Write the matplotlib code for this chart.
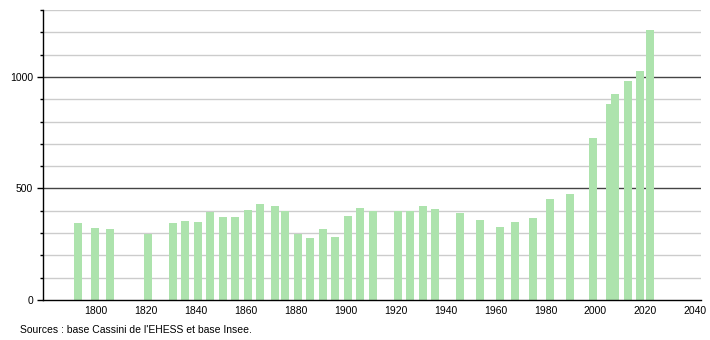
import matplotlib
matplotlib.use("Agg")
import matplotlib.pyplot as plt
from matplotlib.ticker import MultipleLocator

years = [1793, 1800, 1806, 1821, 1831, 1836, 1841, 1846, 1851, 1856, 1861, 1866,
         1872, 1876, 1881, 1886, 1891, 1896, 1901, 1906, 1911, 1921, 1926, 1931,
         1936, 1946, 1954, 1962, 1968, 1975, 1982, 1990, 1999, 2006, 2008, 2013,
         2018, 2022]
population = [345, 324, 318, 294, 345, 354, 349, 395, 373, 372, 403, 431,
              422, 397, 296, 278, 318, 284, 378, 412, 397, 397, 397, 422,
              408, 390, 360, 327, 349, 367, 452, 475, 728, 878, 922, 981,
              1025, 1209]
xtick_years = list(range(1800, 2041, 20))
ytick_major = [0, 500, 1000]
source_text = "Sources : base Cassini de l'EHESS et base Insee."

plt.rcParams['font.family'] = ['Liberation Sans', 'DejaVu Sans']

fig = plt.figure(figsize=(7.1, 3.4), dpi=100)
ax = fig.add_axes([43 / 710, 40 / 340, (700.7 - 43) / 710, 290 / 340])

ax.set_xlim(1779, 2042.1)
ax.set_ylim(0, 1300)

# grid lines
for v in range(100, 1301, 100):
    if v in ytick_major:
        ax.axhline(v, color='#444444', lw=1.0, zorder=1)
    else:
        ax.axhline(v, color='#cccccc', lw=1.0, zorder=1)

ax.bar(years, population, width=3.2, color='#ade3ad', zorder=2, linewidth=0)

for s in ['top', 'right']:
    ax.spines[s].set_visible(False)
for s in ['left', 'bottom']:
    ax.spines[s].set_color('black')
    ax.spines[s].set_linewidth(1.0)
    ax.spines[s].set_zorder(3)

ax.set_yticks(ytick_major)
ax.yaxis.set_minor_locator(MultipleLocator(100))
ax.tick_params(axis='y', which='major', length=4, width=1, pad=3, labelsize=7.5, colors='black')
ax.tick_params(axis='y', which='minor', length=2, width=1)
ax.set_xticks(xtick_years)
ax.tick_params(axis='x', which='major', length=0, pad=4, labelsize=7.5)

fig.text(20.5 / 710, 1 - 330 / 340, source_text, fontsize=7.5, ha='left', va='center')

fig.savefig('out.png', dpi=100)
